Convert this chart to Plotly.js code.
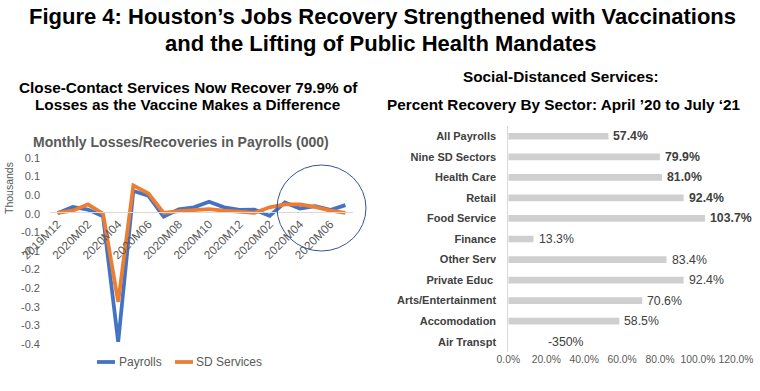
<!DOCTYPE html>
<html>
<head>
<meta charset="utf-8">
<script src="https://cdn.plot.ly/plotly-3.0.1.min.js"></script>
<style>
  html, body { margin: 0; padding: 0; background: #ffffff; }
  #chart { width: 760px; height: 391px; }
</style>
</head>
<body>
<div id="chart"></div>
<script>
// ---------- DATA ----------
const months = ['2019M12','2020M01','2020M02','2020M03','2020M04','2020M05','2020M06','2020M07','2020M08','2020M09',
                '2020M10','2020M11','2020M12','2021M01','2021M02','2021M03','2021M04','2021M05','2021M06','2021M07'];
// tick labels exactly as printed on the source chart (every second month)
const monthTickLabels = ['2019M12','2020M02','2020M04','2020M06','2020M08','2020M10','2020M12','2020M02','2020M04','2020M06'];
const payrolls   = [-0.004, 0.013, 0.006, -0.012, -0.350, 0.056, 0.043, -0.013, 0.007, 0.012,
                     0.027, 0.012, 0.005, 0.006, -0.011, 0.025, 0.009, 0.015, 0.005, 0.018];
const sdServices = [-0.003, 0.003, 0.020, -0.005, -0.242, 0.071, 0.049, -0.003, 0.002, 0.005,
                     0.007, 0.003, 0.000, -0.003, 0.012, 0.020, 0.020, 0.013, 0.003, -0.003];
const seriesNames = ['Payrolls', 'SD Services'];
const yTickVals  = [0.15, 0.10, 0.05, 0.00, -0.05, -0.10, -0.15, -0.20, -0.25, -0.30, -0.35];
const yTickText  = ['0.1','0.1','0.0','0.0','-0.1','-0.1','-0.2','-0.2','-0.3','-0.3','-0.4'];

const sectors  = ['All Payrolls','Nine SD Sectors','Health Care','Retail','Food Service','Finance',
                  'Other Serv','Private Educ ','Arts/Entertainment','Accomodation','Air Transpt'];
const recovery = [52.8, 79.9, 81.0, 92.4, 103.7, 13.3, 83.4, 92.4, 70.6, 58.5, -350];
const recoveryLabels = ['57.4%','79.9%','81.0%','92.4%','103.7%','13.3%','83.4%','92.4%','70.6%','58.5%','-350%'];
const pctTickVals = [0, 20, 40, 60, 80, 100, 120];
const pctTickText = ['0.0%','20.0%','40.0%','60.0%','80.0%','100.0%','120.0%'];

// ---------- STYLE / LAYOUT ----------
const W = 760, H = 391;
const px = v => v / W;              // x pixel -> paper
const py = v => (H - v) / H;        // y pixel -> paper
const FONT = 'Liberation Sans, Arial, sans-serif';
const colors = ['#4472C4', '#ED7D31'];
const grey = '#595959';
const dark = '#404040';
const boldLabelCount = 5;
const negLabelAt = 20;

const lYRange = [-0.35, 0.15];
const lDomX = [px(50), px(353)];
const lDomY = [py(342), py(156)];
const zeroPos = lDomY[0] + (0 - lYRange[0]) / (lYRange[1] - lYRange[0]) * (lDomY[1] - lDomY[0]);

const traces = [
  { x: months.map((m, i) => i), y: payrolls, name: seriesNames[0], type: 'scatter', mode: 'lines',
    line: { color: colors[0], width: 3.75 }, xaxis: 'x', yaxis: 'y', showlegend: false },
  { x: months.map((m, i) => i), y: sdServices, name: seriesNames[1], type: 'scatter', mode: 'lines',
    line: { color: colors[1], width: 3.75 }, xaxis: 'x', yaxis: 'y', showlegend: false },
  { y: sectors, x: recovery, type: 'bar', orientation: 'h', xaxis: 'x2', yaxis: 'y2',
    marker: { color: '#cfcfcf' }, showlegend: false, hoverinfo: 'x+y' }
];

const annotations = [
  { text: '<b>Figure 4: Houston\u2019s Jobs Recovery Strengthened with Vaccinations</b>', x: px(383), y: py(17) },
  { text: '<b>and the Lifting of Public Health Mandates</b>', x: px(381), y: py(43) },
].map(a => Object.assign({ xref: 'paper', yref: 'paper', showarrow: false, xanchor: 'center', yanchor: 'middle',
  font: { family: FONT, size: 22, color: '#000' } }, a));

[
  { text: '<b>Close-Contact Services Now Recover 79.9% of</b>', x: px(188), y: py(87) },
  { text: '<b>Losses as the Vaccine Makes a Difference</b>', x: px(187), y: py(105) },
  { text: '<b>Social-Distanced Services:</b>', x: px(561), y: py(77) },
  { text: '<b>Percent Recovery By Sector: April \u201920 to July \u201821</b>', x: px(564), y: py(104) },
].forEach(a => annotations.push(Object.assign({ xref: 'paper', yref: 'paper', showarrow: false,
  xanchor: 'center', yanchor: 'middle', font: { family: FONT, size: 15.3, color: '#000' } }, a)));

annotations.push({ text: '<b>Monthly Losses/Recoveries in Payrolls (000)</b>', xref: 'paper', yref: 'paper',
  x: px(181), y: py(142), showarrow: false, xanchor: 'center', yanchor: 'middle',
  font: { family: FONT, size: 14, color: grey } });
annotations.push({ text: 'Thousands', xref: 'paper', yref: 'paper', x: px(9), y: py(188), textangle: -90,
  showarrow: false, xanchor: 'center', yanchor: 'middle', font: { family: FONT, size: 10.5, color: grey } });

// custom legend (Excel style short line samples)
const legendItems = [{ lx: 97, tx: 117 }, { lx: 175, tx: 194 }];
const shapes = [];
seriesNames.forEach((n, i) => {
  shapes.push({ type: 'line', xref: 'paper', yref: 'paper', x0: px(legendItems[i].lx), x1: px(legendItems[i].lx + 18),
    y0: py(362), y1: py(362), line: { color: colors[i], width: 3.75 } });
  annotations.push({ text: n, xref: 'paper', yref: 'paper', x: px(legendItems[i].tx), y: py(362),
    showarrow: false, xanchor: 'left', yanchor: 'middle', font: { family: FONT, size: 12, color: grey } });
});

// circle highlight
shapes.push({ type: 'circle', xref: 'paper', yref: 'paper', x0: px(277), x1: px(366), y0: py(251), y1: py(165),
  line: { color: '#2F5597', width: 1 } });

// bar value labels
sectors.forEach((s, i) => {
  const v = recovery[i];
  const t = recoveryLabels[i];
  annotations.push({ text: i < boldLabelCount ? '<b>' + t + '</b>' : t, xref: 'x2', yref: 'y2',
    x: v >= 0 ? v : negLabelAt, y: s, xanchor: 'left', yanchor: 'middle', xshift: v >= 0 ? 3 : 0, showarrow: false,
    font: { family: FONT, size: 12.3, color: dark } });
});

const layout = {
  width: W, height: H,
  margin: { l: 0, r: 0, t: 0, b: 0 },
  paper_bgcolor: '#fff', plot_bgcolor: 'rgba(0,0,0,0)',
  font: { family: FONT, color: grey },
  showlegend: false,
  xaxis: {
    domain: lDomX, range: [-0.5, months.length - 0.5], anchor: 'free', position: zeroPos,
    tickvals: monthTickLabels.map((t, i) => i * 2), ticktext: monthTickLabels, tickangle: -45,
    tickfont: { family: FONT, size: 11.8, color: grey }, showgrid: false, zeroline: false,
    showline: true, linecolor: '#d9d9d9', linewidth: 1, ticks: '', fixedrange: true
  },
  yaxis: {
    domain: lDomY, range: lYRange, tickvals: yTickVals, ticktext: yTickText,
    tickfont: { family: FONT, size: 11, color: grey }, showgrid: false, zeroline: false,
    showline: false, ticks: '', ticklabelstandoff: 9, ticklabelshift: 2, fixedrange: true
  },
  xaxis2: {
    domain: [px(508.3), px(736)], range: [0, 120], anchor: 'y2',
    tickvals: pctTickVals, ticktext: pctTickText,
    tickfont: { family: FONT, size: 10.3, color: grey }, showgrid: false, zeroline: false,
    showline: false, ticks: '', fixedrange: true
  },
  yaxis2: {
    domain: [py(352), py(126)], anchor: 'x2', autorange: 'reversed', type: 'category',
    tickfont: { family: FONT, size: 11, color: dark, weight: 'bold' }, showgrid: false, zeroline: false,
    showline: true, linecolor: '#d9d9d9', linewidth: 1, ticks: '', ticklabelstandoff: 9, fixedrange: true
  },
  bargap: 0.675,
  shapes: shapes,
  annotations: annotations
};

Plotly.newPlot('chart', traces, layout, { displayModeBar: false, staticPlot: true });
</script>
</body>
</html>
